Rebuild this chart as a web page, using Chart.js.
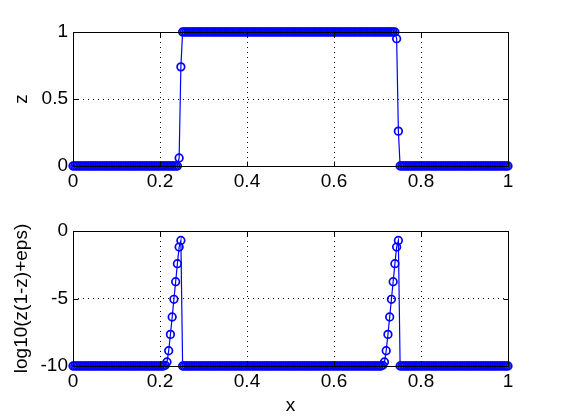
<!DOCTYPE html>
<html>
<head>
<meta charset="utf-8">
<script src="https://cdn.jsdelivr.net/npm/chart.js@4/dist/chart.umd.min.js"></script>
<style>
  html, body { margin: 0; padding: 0; background: #fff; }
  #page { position: relative; width: 561px; height: 420px; overflow: hidden; }
  .plot { position: absolute; left: 0; width: 561px; }
  #top { top: 0; height: 200px; }
  #bottom { top: 200px; height: 220px; }
</style>
</head>
<body>
<div id="page">
  <div class="plot" id="top"><canvas id="zChart"></canvas></div>
  <div class="plot" id="bottom"><canvas id="logChart"></canvas></div>
</div>
<script>
'use strict';

// sample positions
var xValues = [
  0,0.004,0.008,0.012,0.016,0.02,0.024,0.028,0.032,0.036,
  0.04,0.044,0.048,0.052,0.056,0.06,0.064,0.068,0.072,0.076,
  0.08,0.084,0.088,0.092,0.096,0.1,0.104,0.108,0.112,0.116,
  0.12,0.124,0.128,0.132,0.136,0.14,0.144,0.148,0.152,0.156,
  0.16,0.164,0.168,0.172,0.176,0.18,0.184,0.188,0.192,0.196,
  0.2,0.204,0.208,0.212,0.216,0.22,0.224,0.228,0.232,0.236,
  0.24,0.244,0.248,0.252,0.256,0.26,0.264,0.268,0.272,0.276,
  0.28,0.284,0.288,0.292,0.296,0.3,0.304,0.308,0.312,0.316,
  0.32,0.324,0.328,0.332,0.336,0.34,0.344,0.348,0.352,0.356,
  0.36,0.364,0.368,0.372,0.376,0.38,0.384,0.388,0.392,0.396,
  0.4,0.404,0.408,0.412,0.416,0.42,0.424,0.428,0.432,0.436,
  0.44,0.444,0.448,0.452,0.456,0.46,0.464,0.468,0.472,0.476,
  0.48,0.484,0.488,0.492,0.496,0.5,0.504,0.508,0.512,0.516,
  0.52,0.524,0.528,0.532,0.536,0.54,0.544,0.548,0.552,0.556,
  0.56,0.564,0.568,0.572,0.576,0.58,0.584,0.588,0.592,0.596,
  0.6,0.604,0.608,0.612,0.616,0.62,0.624,0.628,0.632,0.636,
  0.64,0.644,0.648,0.652,0.656,0.66,0.664,0.668,0.672,0.676,
  0.68,0.684,0.688,0.692,0.696,0.7,0.704,0.708,0.712,0.716,
  0.72,0.724,0.728,0.732,0.736,0.74,0.744,0.748,0.752,0.756,
  0.76,0.764,0.768,0.772,0.776,0.78,0.784,0.788,0.792,0.796,
  0.8,0.804,0.808,0.812,0.816,0.82,0.824,0.828,0.832,0.836,
  0.84,0.844,0.848,0.852,0.856,0.86,0.864,0.868,0.872,0.876,
  0.88,0.884,0.888,0.892,0.896,0.9,0.904,0.908,0.912,0.916,
  0.92,0.924,0.928,0.932,0.936,0.94,0.944,0.948,0.952,0.956,
  0.96,0.964,0.968,0.972,0.976,0.98,0.984,0.988,0.992,0.996,
  1
];

// z
var zValues = [
  0,0,0,0,0,0,0,0,0,0,
  0,0,0,0,0,0,0,0,0,0,
  0,0,0,0,0,0,0,0,0,0,
  0,0,0,0,0,0,0,0,0,0,
  0,0,0,0,0,0,0,0,0,0,
  0,0,0,0,0,0,0,0,0,0,
  0,0.06,0.74,1,1,1,1,1,1,1,
  1,1,1,1,1,1,1,1,1,1,
  1,1,1,1,1,1,1,1,1,1,
  1,1,1,1,1,1,1,1,1,1,
  1,1,1,1,1,1,1,1,1,1,
  1,1,1,1,1,1,1,1,1,1,
  1,1,1,1,1,1,1,1,1,1,
  1,1,1,1,1,1,1,1,1,1,
  1,1,1,1,1,1,1,1,1,1,
  1,1,1,1,1,1,1,1,1,1,
  1,1,1,1,1,1,1,1,1,1,
  1,1,1,1,1,1,1,1,1,1,
  1,1,1,1,1,1,0.95,0.26,0,0,
  0,0,0,0,0,0,0,0,0,0,
  0,0,0,0,0,0,0,0,0,0,
  0,0,0,0,0,0,0,0,0,0,
  0,0,0,0,0,0,0,0,0,0,
  0,0,0,0,0,0,0,0,0,0,
  0,0,0,0,0,0,0,0,0,0,
  0
];

// log10(z(1-z)+eps), floored at -10
var logValues = [
  -10,-10,-10,-10,-10,-10,-10,-10,-10,-10,
  -10,-10,-10,-10,-10,-10,-10,-10,-10,-10,
  -10,-10,-10,-10,-10,-10,-10,-10,-10,-10,
  -10,-10,-10,-10,-10,-10,-10,-10,-10,-10,
  -10,-10,-10,-10,-10,-10,-10,-10,-10,-10,
  -10,-10,-10,-9.95,-9.7,-8.87,-7.66,-6.37,-5.06,-3.76,
  -2.42,-1.19,-0.7,-10,-10,-10,-10,-10,-10,-10,
  -10,-10,-10,-10,-10,-10,-10,-10,-10,-10,
  -10,-10,-10,-10,-10,-10,-10,-10,-10,-10,
  -10,-10,-10,-10,-10,-10,-10,-10,-10,-10,
  -10,-10,-10,-10,-10,-10,-10,-10,-10,-10,
  -10,-10,-10,-10,-10,-10,-10,-10,-10,-10,
  -10,-10,-10,-10,-10,-10,-10,-10,-10,-10,
  -10,-10,-10,-10,-10,-10,-10,-10,-10,-10,
  -10,-10,-10,-10,-10,-10,-10,-10,-10,-10,
  -10,-10,-10,-10,-10,-10,-10,-10,-10,-10,
  -10,-10,-10,-10,-10,-10,-10,-10,-10,-10,
  -10,-10,-10,-10,-10,-10,-10,-10,-9.95,-9.7,
  -8.87,-7.66,-6.37,-5.06,-3.76,-2.42,-1.19,-0.7,-10,-10,
  -10,-10,-10,-10,-10,-10,-10,-10,-10,-10,
  -10,-10,-10,-10,-10,-10,-10,-10,-10,-10,
  -10,-10,-10,-10,-10,-10,-10,-10,-10,-10,
  -10,-10,-10,-10,-10,-10,-10,-10,-10,-10,
  -10,-10,-10,-10,-10,-10,-10,-10,-10,-10,
  -10,-10,-10,-10,-10,-10,-10,-10,-10,-10,
  -10
];

// tick positions
var xTicks = [0, 0.2, 0.4, 0.6, 0.8, 1];
var zTicks = [0, 0.5, 1];
var logTicks = [-10, -5, 0];

var FONT = { family: "'Liberation Sans', Arial, sans-serif", size: 19 };
var TICK_LEN = 5;

/**
 * Draw the axes box and inward tick marks over the data, like MATLAB does
 */
var boxPlugin = {
  id: 'matlabBox',
  afterDatasetsDraw: function(chart) {
    var a = chart.chartArea;
    var ctx = chart.ctx;
    var xs = chart.scales.x;
    var ys = chart.scales.y;
    var l = Math.round(a.left) + 0.5, r = Math.round(a.right) + 0.5;
    var t = Math.round(a.top) + 0.5, b = Math.round(a.bottom) + 0.5;
    ctx.save();
    ctx.strokeStyle = '#000';
    ctx.lineWidth = 1;
    ctx.setLineDash([]);
    ctx.beginPath();
    ctx.rect(l, t, r - l, b - t);
    xs.ticks.forEach(function(tk) {
      var px = Math.round(xs.getPixelForValue(tk.value)) + 0.5;
      ctx.moveTo(px, b); ctx.lineTo(px, b - TICK_LEN);
      ctx.moveTo(px, t); ctx.lineTo(px, t + TICK_LEN);
    });
    ys.ticks.forEach(function(tk) {
      var py = Math.round(ys.getPixelForValue(tk.value)) + 0.5;
      ctx.moveTo(l, py); ctx.lineTo(l + TICK_LEN, py);
      ctx.moveTo(r, py); ctx.lineTo(r - TICK_LEN, py);
    });
    ctx.stroke();
    ctx.restore();
  }
};

function points(ys) {
  return xValues.map(function(x, i) { return { x: x, y: ys[i] }; });
}

function buildChart(canvasId, yValues, yTicks, yTitle, xTitle, pad, xAxisHeight) {
  var ctx = document.getElementById(canvasId);
  return new Chart(ctx, {
    type: 'line',
    data: {
      datasets: [{
        data: points(yValues),
        borderColor: '#0000ff',
        borderWidth: 1.2,
        pointStyle: 'circle',
        pointRadius: 3.8,
        pointBorderWidth: 1.7,
        pointBorderColor: '#0000ff',
        pointBackgroundColor: 'rgba(0,0,0,0)',
        tension: 0,
        clip: false
      }]
    },
    options: {
      responsive: true,
      maintainAspectRatio: false,
      devicePixelRatio: 1,
      animation: false,
      events: [],
      layout: { padding: pad },
      plugins: { legend: { display: false }, tooltip: { enabled: false } },
      scales: {
        x: {
          type: 'linear',
          min: 0,
          max: 1,
          afterBuildTicks: function(scale) {
            scale.ticks = xTicks.map(function(v) { return { value: v }; });
          },
          afterFit: function(scale) { scale.height = xAxisHeight; },
          ticks: {
            color: '#000',
            font: FONT,
            padding: 4,
            maxRotation: 0,
            autoSkip: false,
            callback: function(v) { return String(v); }
          },
          grid: { color: '#000', lineWidth: 1, drawTicks: false },
          border: { display: false, dash: [1, 4] },
          title: {
            display: !!xTitle,
            text: xTitle,
            color: '#000',
            font: FONT,
            padding: { top: 0, bottom: 3 }
          }
        },
        y: {
          type: 'linear',
          min: yTicks[0],
          max: yTicks[yTicks.length - 1],
          afterBuildTicks: function(scale) {
            scale.ticks = yTicks.map(function(v) { return { value: v }; });
          },
          afterFit: function(scale) { scale.width = 73; },
          ticks: {
            color: '#000',
            font: FONT,
            padding: 5,
            autoSkip: false,
            callback: function(v) { return String(v); }
          },
          grid: { color: '#000', lineWidth: 1, drawTicks: false },
          border: { display: false, dash: [1, 4] },
          title: {
            display: true,
            text: yTitle,
            color: '#000',
            font: FONT,
            padding: { top: 10, bottom: 0 }
          }
        }
      }
    },
    plugins: [boxPlugin]
  });
}

buildChart('zChart', zValues, zTicks, 'z', '', { top: 32, right: 53, left: 0, bottom: 0 }, 34);
buildChart('logChart', logValues, logTicks, 'log10(z(1-z)+eps)', 'x', { top: 31, right: 53, left: 0, bottom: 0 }, 54);
</script>
</body>
</html>
